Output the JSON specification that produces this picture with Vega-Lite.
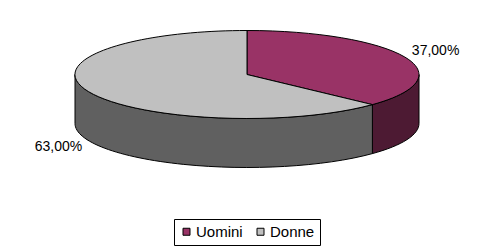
{
  "$schema": "https://vega.github.io/schema/vega-lite/v6.json",
  "width": 494,
  "height": 198,
  "autosize": {"type": "none"},
  "padding": {"left": 0, "top": 0, "right": 1, "bottom": 49},
  "background": "white",
  "config": {
    "view": {"stroke": null},
    "locale": {"number": {"decimal": ",", "thousands": ".", "grouping": [3], "currency": ["", " €"]}}
  },
  "data": {
    "values": [
      {"genere": "Uomini", "quota": 0.37},
      {"genere": "Donne", "quota": 0.63}
    ]
  },
  "transform": [
    {"stack": "quota", "groupby": [], "offset": "normalize", "as": ["q0", "q1"], "sort": [{"field": "genere", "order": "descending"}]},
    {"calculate": "2*PI*datum.q0", "as": "a0"},
    {"calculate": "2*PI*datum.q1", "as": "a1"},
    {"calculate": "(datum.a0 + datum.a1) / 2", "as": "am"},
    {"calculate": "round(1720*sin(datum.a0))/10", "as": "x0"},
    {"calculate": "round(10*(-24.5 - 44*cos(datum.a0)))/10", "as": "y0"},
    {"calculate": "round(1720*sin(datum.a1))/10", "as": "x1"},
    {"calculate": "round(10*(-24.5 - 44*cos(datum.a1)))/10", "as": "y1"},
    {"calculate": "'M0,-24.5L' + datum.x0 + ',' + datum.y0 + 'A172,44 0 ' + (datum.a1 - datum.a0 > PI ? 1 : 0) + ' 1 ' + datum.x1 + ',' + datum.y1 + 'Z'", "as": "faccia"},
    {"calculate": "max(datum.a0, PI/2)", "as": "s0"},
    {"calculate": "min(datum.a1, 3*PI/2)", "as": "s1"},
    {"calculate": "round(1720*sin(datum.s0))/10", "as": "sx0"},
    {"calculate": "round(10*(-24.5 - 44*cos(datum.s0)))/10", "as": "sy0"},
    {"calculate": "round(1720*sin(datum.s1))/10", "as": "sx1"},
    {"calculate": "round(10*(-24.5 - 44*cos(datum.s1)))/10", "as": "sy1"},
    {"calculate": "datum.s1 > datum.s0 ? 'M' + datum.sx0 + ',' + datum.sy0 + 'A172,44 0 0 1 ' + datum.sx1 + ',' + datum.sy1 + 'L' + datum.sx1 + ',' + (datum.sy1 + 49) + 'A172,44 0 0 0 ' + datum.sx0 + ',' + (datum.sy0 + 49) + 'Z' : 'M0,0'", "as": "fianco"},
    {"calculate": "205.5*sin(datum.am)", "as": "lx"},
    {"calculate": "121*cos(datum.am)", "as": "ly"}
  ],
  "layer": [
    {
      "mark": {"type": "point", "filled": true, "opacity": 1, "size": 4, "stroke": "black", "strokeWidth": 1},
      "encoding": {
        "shape": {"field": "fianco", "type": "nominal", "scale": null},
        "fill": {
          "field": "genere", "type": "nominal",
          "scale": {"domain": ["Uomini", "Donne"], "range": ["#4d1a33", "#606060"]},
          "legend": null
        }
      }
    },
    {
      "mark": {"type": "point", "filled": true, "opacity": 1, "size": 4, "stroke": "black", "strokeWidth": 1},
      "encoding": {
        "shape": {"field": "faccia", "type": "nominal", "scale": null},
        "fill": {
          "field": "genere", "type": "nominal",
          "scale": {"domain": ["Uomini", "Donne"], "range": ["#993366", "#c0c0c0"]},
          "legend": {
            "title": null,
            "orient": "none",
            "legendX": 174,
            "legendY": 219,
            "direction": "horizontal",
            "symbolType": "square",
            "symbolSize": 49,
            "symbolStrokeColor": "black",
            "symbolStrokeWidth": 1,
            "symbolOpacity": 1,
            "labelFont": "Liberation Sans",
            "labelFontSize": 15,
            "labelColor": "black",
            "labelOffset": 2,
            "columnPadding": 10,
            "strokeColor": "black",
            "fillColor": "white",
            "padding": 5
          }
        }
      }
    },
    {
      "mark": {"type": "text", "font": "Liberation Sans", "fontSize": 14, "align": "center", "baseline": "middle", "color": "black"},
      "encoding": {
        "x": {"field": "lx", "type": "quantitative", "scale": {"domain": [-247, 247], "nice": false, "zero": false}, "axis": null},
        "y": {"field": "ly", "type": "quantitative", "scale": {"domain": [-99, 99], "nice": false, "zero": false}, "axis": null},
        "text": {"field": "quota", "type": "quantitative", "format": ".2%"}
      }
    }
  ],
  "resolve": {"scale": {"fill": "independent"}}
}
